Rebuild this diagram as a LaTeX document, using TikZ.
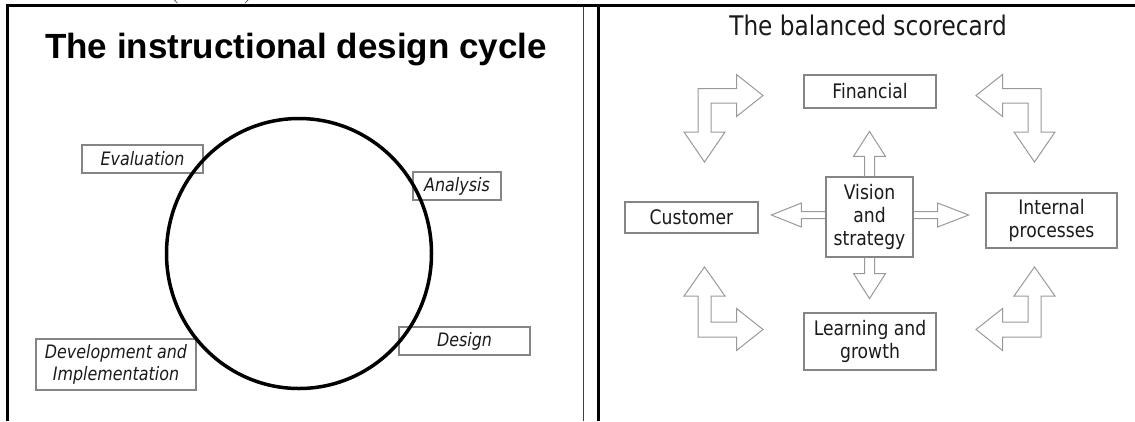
\documentclass[tikz,border=0pt]{standalone}
\usepackage{fontspec}
\usetikzlibrary{calc,shapes.geometric}
\newfontfamily\labelfont[FakeStretch=0.86]{DejaVu Sans}
\newfontfamily\headfont{Liberation Sans}
\definecolor{ink}{HTML}{1A1A1A}
\definecolor{boxgray}{HTML}{858585}
\definecolor{arrowgray}{HTML}{999999}
\begin{document}
\begin{tikzpicture}[x=1pt,y=-1pt,
  frame/.style={line width=3pt, black},
  box/.style={draw=boxgray, line width=1.2pt, inner sep=0pt, align=center, text=ink},
  cyclebox/.style={box, font=\labelfont\itshape\fontsize{18.5}{22}\selectfont, minimum height=28pt},
  bscbox/.style={box, font=\labelfont\fontsize{20}{23.3}\selectfont},
  blockarrow/.style={draw=arrowgray, line width=1pt, line join=miter},
]
\useasboundingbox (0,0) rectangle (1135,421);

% remnants of the caption above the table
\draw[ink!70, line width=0.8pt] (174.5,0) .. controls (175.5,2) .. (177.5,3.2);
\draw[ink!70, line width=0.8pt] (248,0) .. controls (247,2) .. (245,3.2);

% table rules
\draw[frame] (6,5.5) -- (1135,5.5);
\draw[frame] (7.5,4) -- (7.5,421);
\draw[line width=1.2pt, black!75] (583.5,7) -- (583.5,421);
\draw[frame] (598.5,4) -- (598.5,421);

% ---------------- left slide: the instructional design cycle
\node[anchor=base, font=\headfont\bfseries\fontsize{35}{41}\selectfont, text=black]
  (ctitle) at (296,58) {The instructional design cycle};

\node[cyclebox, minimum width=121pt] (eval) at (142.5,159) {Evaluation};
\node[cyclebox, minimum width=88pt]  (anal) at (457,186) {Analysis};
\node[cyclebox, minimum width=131pt] (desi) at (464.5,341) {Design};
\node[cyclebox, minimum width=160pt, minimum height=51pt] (devi) at (116,364.5)
  {Development and\\Implementation};

\node[draw, ellipse, line width=3.5pt, minimum width=265pt, minimum height=270pt,
  inner sep=0pt] (cyc) at (299,253.5) {};

% ---------------- right slide: the balanced scorecard
\node[anchor=base, font=\labelfont\fontsize{27}{32}\selectfont, text=ink]
  (btitle) at (868,35) {The balanced scorecard};

\node[bscbox, minimum width=132pt, minimum height=33pt] (fin) at (870,91.5) {Financial};
\node[bscbox, minimum width=133pt, minimum height=31pt] (cus) at (691.5,217.5) {Customer};
\node[bscbox, minimum width=131pt, minimum height=55pt] (int) at (1051.5,220.5) {Internal\\processes};
\node[bscbox, minimum width=132pt, minimum height=57pt] (lea) at (870,341.5) {Learning and\\growth};
\node[bscbox, minimum width=87pt, minimum height=80pt] (vis) at (869.5,217) {Vision\\and\\strategy};

% block arrows leaving the vision box
\draw[blockarrow] ($(vis.north)+(-5,0)$) -- ++(0,-20) -- ++(-11,0) -- ($(vis.north)+(0,-45)$)
  -- ($(vis.north)+(16,-20)$) -- ++(-11,0) -- ++(0,20);
\draw[blockarrow] ($(vis.south)+(-5,0)$) -- ++(0,16) -- ++(-11,0) -- ($(vis.south)+(0,41)$)
  -- ($(vis.south)+(16,16)$) -- ++(-11,0) -- ++(0,-16);
\draw[blockarrow] ($(vis.west)+(0,-5.5)$) -- ++(-24,0) -- ++(0,-8.5) -- ($(vis.west)+(-54,-2)$)
  -- ($(vis.west)+(-24,10)$) -- ++(0,-8.5) -- ++(24,0);
\draw[blockarrow] ($(vis.east)+(0,-5.5)$) -- ++(24,0) -- ++(0,-8.5) -- ($(vis.east)+(55,-2)$)
  -- ($(vis.east)+(24,10)$) -- ++(0,-8.5) -- ++(-24,0);

% bent double arrows between neighbouring perspectives
\draw[blockarrow] (763,95.5) -- (736.5,116.5) -- (736.5,103) -- (711,103) -- (711,132)
  -- (725,132) -- (704.5,162) -- (684,132) -- (698,132) -- (698,88.5) -- (736.5,88.5)
  -- (736.5,74.5) -- cycle;
\draw[blockarrow] (976,95.5) -- (1002.5,116.5) -- (1002.5,103) -- (1028,103) -- (1028,132)
  -- (1014,132) -- (1034.5,162) -- (1055,132) -- (1041,132) -- (1041,88.5) -- (1002.5,88.5)
  -- (1002.5,74.5) -- cycle;
\draw[blockarrow] (763,329.5) -- (736.5,308.5) -- (736.5,322) -- (711,322) -- (711,296)
  -- (725,296) -- (704.5,267) -- (684,296) -- (698,296) -- (698,337) -- (736.5,337)
  -- (736.5,350.5) -- cycle;
\draw[blockarrow] (976,329.5) -- (1002.5,308.5) -- (1002.5,322) -- (1028,322) -- (1028,296)
  -- (1014,296) -- (1034.5,267) -- (1055,296) -- (1041,296) -- (1041,337) -- (1002.5,337)
  -- (1002.5,350.5) -- cycle;

\end{tikzpicture}
\end{document}
